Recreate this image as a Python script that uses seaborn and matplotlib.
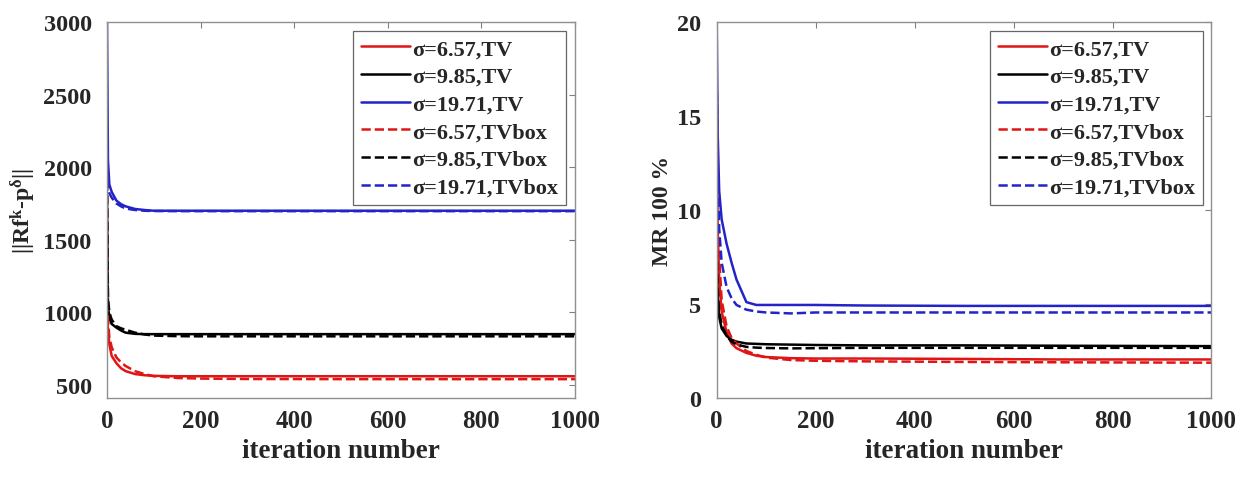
import pandas as pd
import seaborn as sns
import matplotlib
matplotlib.use('Agg')
import matplotlib.pyplot as plt

iters = [0, 2, 5, 10, 20, 30, 40, 60, 80, 100, 150, 200, 300, 500, 700, 1000]

labels = ['σ=6.57,TV', 'σ=9.85,TV', 'σ=19.71,TV',
          'σ=6.57,TVbox', 'σ=9.85,TVbox', 'σ=19.71,TVbox']
colors = ['#e01515', '#000000', '#2323c8', '#e01515', '#000000', '#2323c8']
styles = ['-', '-', '-', '--', '--', '--']

# left panel: ||Rf^k - p^delta||
res_tv_657 = [1000, 880, 780, 700, 650, 615, 595, 575, 567, 563, 560, 560, 560, 560, 560, 560]
res_tv_985 = [1800, 1050, 960, 920, 895, 875, 860, 852, 850, 850, 850, 850, 850, 850, 850, 850]
res_tv_1971 = [3000, 2050, 1880, 1830, 1770, 1745, 1730, 1712, 1705, 1700, 1700, 1700, 1700, 1700, 1700, 1700]
res_box_657 = [1800, 950, 830, 760, 690, 655, 630, 595, 575, 560, 548, 544, 541, 540, 540, 540]
res_box_985 = [1900, 1100, 1000, 950, 905, 890, 880, 860, 848, 840, 836, 835, 835, 835, 835, 835]
res_box_1971 = [2100, 1850, 1820, 1790, 1750, 1730, 1715, 1705, 1700, 1698, 1697, 1697, 1697, 1697, 1697, 1697]

# right panel: MR 100 %
mr_tv_657 = [14, 9, 6.2, 4.6, 3.5, 2.9, 2.65, 2.4, 2.25, 2.18, 2.12, 2.1, 2.1, 2.08, 2.05, 2.05]
mr_tv_985 = [7, 5.3, 4.3, 3.7, 3.3, 3.1, 3.0, 2.9, 2.88, 2.86, 2.84, 2.82, 2.8, 2.8, 2.78, 2.76]
mr_tv_1971 = [20, 14, 11, 9.5, 8.2, 7.2, 6.3, 5.1, 4.95, 4.95, 4.95, 4.95, 4.92, 4.9, 4.9, 4.9]
mr_box_657 = [17, 11, 7.5, 5.2, 3.8, 3.2, 2.9, 2.5, 2.3, 2.15, 2.02, 1.98, 1.95, 1.92, 1.9, 1.88]
mr_box_985 = [8, 5.8, 4.6, 3.9, 3.3, 3.0, 2.85, 2.72, 2.68, 2.66, 2.64, 2.65, 2.67, 2.67, 2.67, 2.67]
mr_box_1971 = [17, 12, 9, 7.2, 5.9, 5.3, 4.95, 4.7, 4.6, 4.55, 4.5, 4.55, 4.55, 4.55, 4.55, 4.55]

res_series = [res_tv_657, res_tv_985, res_tv_1971, res_box_657, res_box_985, res_box_1971]
mr_series = [mr_tv_657, mr_tv_985, mr_tv_1971, mr_box_657, mr_box_985, mr_box_1971]

sns.set_style('white')
plt.rcParams['font.family'] = ['Liberation Serif', 'DejaVu Serif']
plt.rcParams['font.weight'] = 'bold'
plt.rcParams['mathtext.fontset'] = 'custom'
plt.rcParams['mathtext.rm'] = 'Liberation Serif:bold'
plt.rcParams['mathtext.it'] = 'Liberation Serif:bold'
plt.rcParams['mathtext.bf'] = 'Liberation Serif:bold'

fig = plt.figure(figsize=(12.4, 4.89), dpi=100)
ax1 = fig.add_axes([0.0863, 0.184, 0.3774, 0.769])
ax2 = fig.add_axes([0.578, 0.184, 0.399, 0.769])


def draw(ax, series, ylim, yticks, ylabel):
    for vals, lab, c, ls in zip(series, labels, colors, styles):
        df = pd.DataFrame({'iteration': iters, 'value': vals})
        sns.lineplot(data=df, x='iteration', y='value', color=c, linestyle=ls,
                     linewidth=1.8, label=lab, ax=ax)
    ax.set_xlim(0, 1000)
    ax.set_ylim(*ylim)
    ax.set_xticks([0, 200, 400, 600, 800, 1000])
    ax.set_yticks(yticks)
    ax.tick_params(direction='in', length=4, width=0.8, color='#808080',
                   top=True, right=True, labelsize=18)
    ax.tick_params(axis='y', labelsize=17.5, pad=11)
    ax.tick_params(axis='x', pad=8)
    for lab in ax.get_xticklabels() + ax.get_yticklabels():
        lab.set_fontweight('bold')
    for sp in ax.spines.values():
        sp.set_color('#909090')
        sp.set_linewidth(1.0)
    ax.set_xlabel('iteration number', fontsize=19.5, fontweight='bold', labelpad=4)
    ax.set_ylabel(ylabel, fontsize=17, fontweight='bold')
    leg = ax.legend(loc='upper right', fontsize=16, frameon=True, fancybox=False,
                    handlelength=2.2, handletextpad=0.1, labelspacing=0.32,
                    borderpad=0.35, borderaxespad=0.4)
    leg.get_frame().set_edgecolor('#404040')
    leg.get_frame().set_linewidth(0.9)
    for t in leg.get_texts():
        t.set_fontweight('bold')


draw(ax1, res_series, (410, 3000), [500, 1000, 1500, 2000, 2500, 3000],
     r'||Rf$^{k}$-p$^{\delta}$||')
draw(ax2, mr_series, (0, 20), [0, 5, 10, 15, 20], 'MR 100 %')
ax1.yaxis.set_label_coords(-0.147, 0.5)
ax2.yaxis.set_label_coords(-0.088, 0.5)

fig.savefig('out.png', dpi=100)
